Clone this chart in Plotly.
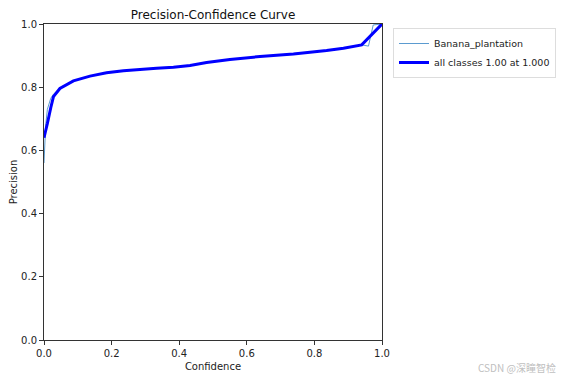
import plotly.graph_objects as go

conf = [0, 0.005, 0.01, 0.02, 0.028, 0.047, 0.087, 0.136, 0.185, 0.235, 0.284, 0.333, 0.383,
        0.432, 0.481, 0.521, 0.55, 0.639, 0.738, 0.836, 0.886, 0.94, 0.96, 0.974, 1.0]
banana_precision = [0.56, 0.68, 0.73, 0.765, 0.778, 0.796, 0.820, 0.835, 0.846, 0.852, 0.857,
                    0.860, 0.863, 0.869, 0.878, 0.884, 0.888, 0.897, 0.905, 0.916, 0.923, 0.934,
                    0.930, 0.997, 1.0]
all_precision = [0.64, 0.66, 0.685, 0.735, 0.77, 0.796, 0.820, 0.835, 0.846, 0.852, 0.857,
                 0.860, 0.863, 0.869, 0.878, 0.884, 0.888, 0.897, 0.905, 0.916, 0.923, 0.934,
                 0.956, 0.971, 1.0]
x_ticks = [0.0, 0.2, 0.4, 0.6, 0.8, 1.0]
y_ticks = [0.0, 0.2, 0.4, 0.6, 0.8, 1.0]

font = "DejaVu Sans"
OFF = 8  # page body margin offset
W, H = 567 - OFF, 378 - OFF
L, R, T, B = 44 - OFF, 185, 24 - OFF, 38
PW, PH = W - L - R, H - T - B

fig = go.Figure()
fig.add_trace(go.Scatter(x=conf, y=banana_precision, mode="lines", name="Banana_plantation",
                         line=dict(color="#5b9bd0", width=1)))
fig.add_trace(go.Scatter(x=conf, y=all_precision, mode="lines", name="all classes 1.00 at 1.000",
                         line=dict(color="#0000ff", width=3)))

axis_common = dict(range=[0, 1], showgrid=False, zeroline=False, showline=True, mirror=True,
                   linecolor="#333333", linewidth=1, ticks="outside", ticklen=4, tickwidth=1,
                   tickcolor="#333333", tickformat=".1f", automargin=False,
                   tickfont=dict(family=font, size=10, color="#222222"))
fig.update_xaxes(**axis_common, tickvals=x_ticks,
                 title=dict(text="Confidence", font=dict(family=font, size=10, color="#222222"), standoff=4))
fig.update_yaxes(**axis_common, tickvals=y_ticks,
                 title=dict(text="Precision", font=dict(family=font, size=10, color="#222222"), standoff=6))

fig.update_layout(
    width=W, height=H,
    margin=dict(l=L, r=R, t=T, b=B, autoexpand=False),
    paper_bgcolor="white", plot_bgcolor="white",
    title=dict(text="Precision-Confidence Curve", x=(L + PW / 2) / W, xanchor="center",
               y=1 - (15 - OFF) / H, yanchor="middle", font=dict(family=font, size=12, color="#111111")),
    legend=dict(x=(393 - 44) / PW, y=(340 - 28) / PH, xanchor="left", yanchor="top",
                bgcolor="white", bordercolor="#dddddd", borderwidth=1, itemwidth=30,
                font=dict(family=font, size=9.5, color="#222222"), tracegroupgap=0),
    showlegend=True,
)
fig.add_annotation(text="CSDN @深瞳智检", xref="paper", yref="paper", x=(558 - 44) / PW,
                   y=-(367 - 340) / PH, xanchor="right", yanchor="middle", showarrow=False,
                   font=dict(family="Noto Sans CJK SC", size=10, color="#c0c0c0"))

fig.write_html("out.html")
